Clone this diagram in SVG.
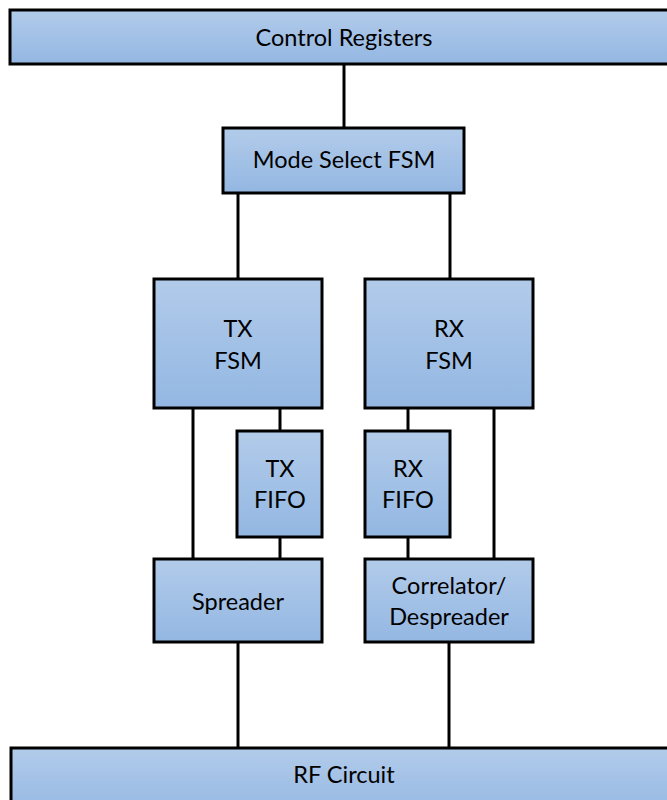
<svg xmlns="http://www.w3.org/2000/svg" width="667" height="800" viewBox="0 0 667 800">
<defs>
<linearGradient id="g" x1="0" y1="0" x2="0" y2="1">
<stop offset="0" stop-color="#b2cbea"/>
<stop offset="1" stop-color="#93b7e2"/>
</linearGradient>
<style>
.b{fill:url(#g);stroke:#000;stroke-width:3}
.t{font-family:Lato,"Open Sans",sans-serif;font-size:23.5px;fill:#000;text-anchor:middle;dominant-baseline:central}
.c{stroke:#000;stroke-width:3;fill:none}
</style>
</defs>
<rect width="667" height="800" fill="#fff"/>
<g id="connectors">
<line class="c" x1="344" y1="64" x2="344" y2="128"/>
<line class="c" x1="238" y1="193" x2="238" y2="279"/>
<line class="c" x1="450" y1="193" x2="450" y2="279"/>
<line class="c" x1="193" y1="408" x2="193" y2="559"/>
<line class="c" x1="280" y1="408" x2="280" y2="431"/>
<line class="c" x1="280" y1="537" x2="280" y2="559"/>
<line class="c" x1="408" y1="408" x2="408" y2="431"/>
<line class="c" x1="408" y1="537" x2="408" y2="559"/>
<line class="c" x1="494" y1="408" x2="494" y2="559"/>
<line class="c" x1="238" y1="642" x2="238" y2="748"/>
<line class="c" x1="449" y1="642" x2="449" y2="748"/>
</g>
<g id="control-registers"><rect class="b" x="10" y="10" width="670" height="54"/><text class="t" x="344" y="37">Control Registers</text></g>
<g id="mode-select-fsm"><rect class="b" x="223" y="128" width="241" height="65"/><text class="t" x="344" y="159">Mode Select FSM</text></g>
<g id="tx-fsm"><rect class="b" x="154" y="279" width="168" height="129"/><text class="t" x="238" y="328">TX</text><text class="t" x="238" y="360">FSM</text></g>
<g id="rx-fsm"><rect class="b" x="365" y="279" width="168" height="129"/><text class="t" x="449" y="328">RX</text><text class="t" x="449" y="360">FSM</text></g>
<g id="tx-fifo"><rect class="b" x="237" y="431" width="85" height="106"/><text class="t" x="280" y="468">TX</text><text class="t" x="280" y="499">FIFO</text></g>
<g id="rx-fifo"><rect class="b" x="365" y="431" width="85" height="106"/><text class="t" x="408" y="468">RX</text><text class="t" x="408" y="499">FIFO</text></g>
<g id="spreader"><rect class="b" x="154" y="559" width="168" height="83"/><text class="t" x="238" y="601">Spreader</text></g>
<g id="correlator"><rect class="b" x="365" y="559" width="168" height="83"/><text class="t" x="449" y="585">Correlator/</text><text class="t" x="449" y="616">Despreader</text></g>
<g id="rf-circuit"><rect class="b" x="11" y="748" width="670" height="70"/><text class="t" x="344" y="774">RF Circuit</text></g>
</svg>
